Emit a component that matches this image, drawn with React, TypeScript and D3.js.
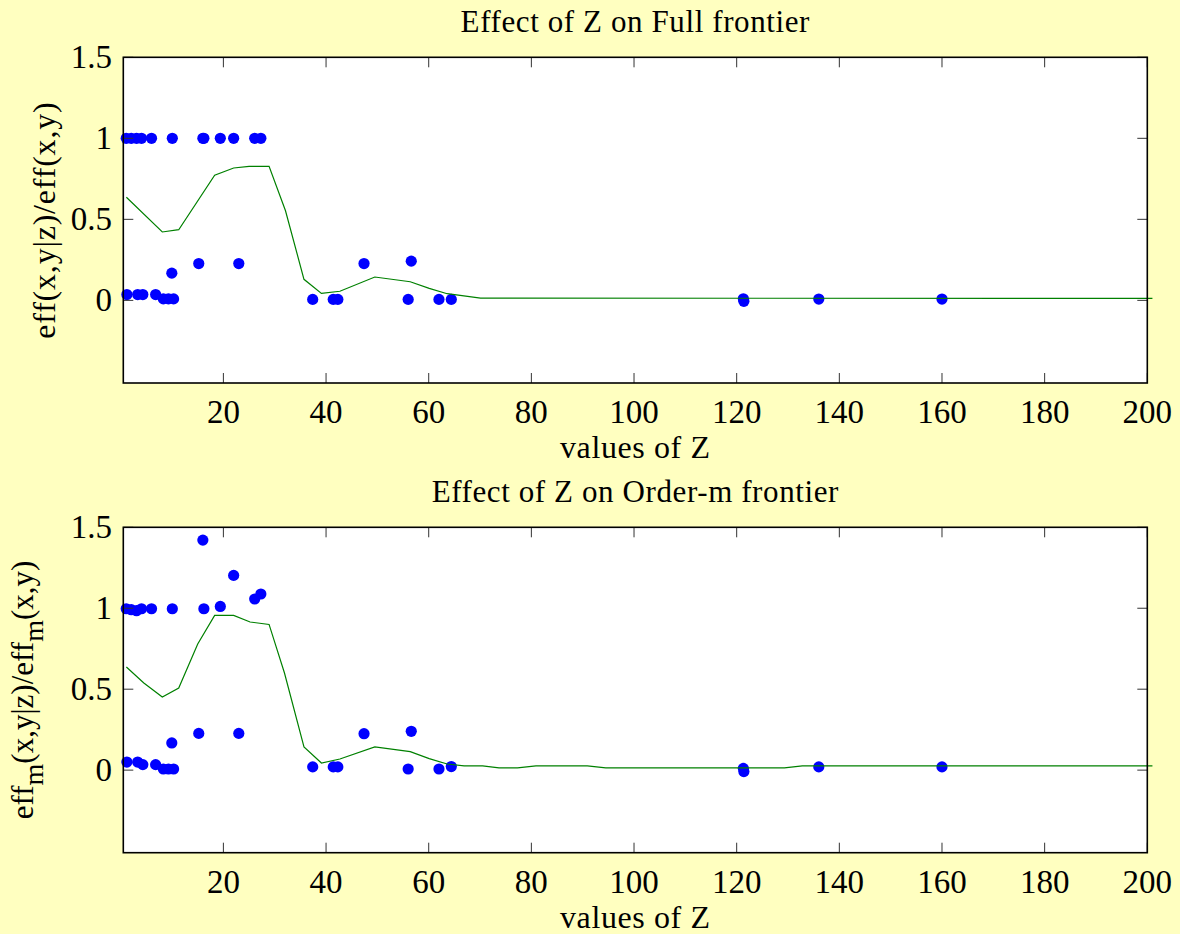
import React from "react";
import * as d3 from "d3";

// Observations: value of Z and efficiency ratios
const zObs = [1.07, 1.2, 2.05, 3.08, 3.3, 4.05, 4.3, 6.0, 6.8, 8.3, 9.3, 10.3, 9.95, 10.05, 15.2, 16.0, 16.2, 19.4, 22.0, 23.0, 26.1, 27.3, 37.4, 41.4, 42.3, 47.4, 56.0, 56.6, 62.0, 64.4, 121.3, 121.4, 136.0, 160.0];
const effFull = [1, 0.036, 1, 1, 0.036, 1, 0.036, 1, 0.036, 0.009, 0.009, 0.009, 0.168, 1, 0.227, 1, 1, 1, 1, 0.227, 1, 1, 0.006, 0.006, 0.006, 0.227, 0.006, 0.242, 0.006, 0.006, 0.01, -0.006, 0.008, 0.008];
const effOrderM = [0.997, 0.05, 0.991, 0.985, 0.05, 0.997, 0.034, 0.997, 0.034, 0.007, 0.007, 0.007, 0.168, 0.997, 0.227, 1.421, 0.997, 1.011, 1.203, 0.227, 1.057, 1.088, 0.02, 0.02, 0.02, 0.225, 0.007, 0.24, 0.007, 0.022, 0.011, -0.009, 0.02, 0.02];

// Smoothed curves
const gridFull = [1.1, 8.1, 11.3, 18.3, 22.0, 25.0, 28.9, 32.1, 35.7, 39.1, 42.7, 49.5, 56.4, 60.1, 63.6, 70.1, 201];
const curveFull = [0.636, 0.422, 0.436, 0.772, 0.817, 0.827, 0.827, 0.553, 0.13, 0.043, 0.056, 0.144, 0.115, 0.074, 0.041, 0.014, 0.012];
const gridOrderM = [1.1, 4.5, 8.1, 11.3, 15.0, 18.3, 22.0, 25.2, 28.9, 31.9, 35.7, 39.1, 42.7, 49.5, 56.4, 60.1, 63.6, 66.9, 70.5, 73.7, 77.3, 80.9, 90.9, 94.5, 129.3, 132.8, 201];
const curveOrderM = [0.637, 0.538, 0.452, 0.507, 0.779, 0.956, 0.956, 0.915, 0.9, 0.6, 0.143, 0.044, 0.069, 0.143, 0.114, 0.071, 0.038, 0.026, 0.026, 0.014, 0.014, 0.026, 0.026, 0.014, 0.014, 0.026, 0.026];

const xTicks = [20, 40, 60, 80, 100, 120, 140, 160, 180, 200];
const yTicks = [0, 0.5, 1, 1.5];
const yTickLabels = ["0", "0.5", "1", "1.5"];

const W = 1180;
const H = 934;
const FONT = "'Liberation Serif', 'Times New Roman', serif";
const FS = 33;

const left = 123.3;
const right = 1147.3;

type PanelProps = {
  top: number;
  bottom: number;
  title: string;
  effs: number[];
  grid: number[];
  curve: number[];
  yLabel: React.ReactNode;
};

function Panel({ top, bottom, title, effs, grid, curve, yLabel }: PanelProps) {
  const x = d3.scaleLinear().domain([0.5, 200]).range([left, right]);
  const y = d3.scaleLinear().domain([-0.51, 1.5]).range([bottom, top]);
  const line = d3
    .line<number>()
    .x((_, i) => x(grid[i]))
    .y((d) => y(d));
  const tl = 10;
  return (
    <g>
      <rect x={left} y={top} width={right - left} height={bottom - top} fill="#ffffff" />
      <clipPath id={`clip${top}`}>
        <rect x={left - 6} y={top} width={right - left + 12} height={bottom - top} />
      </clipPath>
      <g clipPath={`url(#clip${top})`}>
        {zObs.map((z, i) => (
          <circle key={i} cx={x(z)} cy={y(effs[i])} r={5.6} fill="#0000ff" />
        ))}
        <path d={line(curve) || ""} fill="none" stroke="#008000" strokeWidth={1.2} />
      </g>
      {/* ticks */}
      {xTicks.map((t) => (
        <g key={t}>
          <line x1={x(t)} x2={x(t)} y1={bottom} y2={bottom - tl} stroke="#333" strokeWidth={1} />
          <line x1={x(t)} x2={x(t)} y1={top} y2={top + tl} stroke="#333" strokeWidth={1} />
          <text x={x(t)} y={bottom + 40} textAnchor="middle" fontFamily={FONT} fontSize={FS} fill="#000">
            {t}
          </text>
        </g>
      ))}
      {yTicks.map((t, i) => (
        <g key={t}>
          <line x1={left} x2={left + tl} y1={y(t)} y2={y(t)} stroke="#333" strokeWidth={1} />
          <line x1={right} x2={right - tl} y1={y(t)} y2={y(t)} stroke="#333" strokeWidth={1} />
          <text x={112} y={y(t) + 11} textAnchor="end" fontFamily={FONT} fontSize={FS} fill="#000">
            {yTickLabels[i]}
          </text>
        </g>
      ))}
      <rect x={left} y={top} width={right - left} height={bottom - top} fill="none" stroke="#000" strokeWidth={1.6} />
      <text x={(left + right) / 2} y={top - 25} textAnchor="middle" fontFamily={FONT} fontSize={31} letterSpacing={0.6} fill="#000">
        {title}
      </text>
      <text x={(left + right) / 2} y={bottom + 75} textAnchor="middle" fontFamily={FONT} fontSize={32} letterSpacing={0.6} fill="#000">
        values of Z
      </text>
      {yLabel}
    </g>
  );
}

export default function App() {
  const cy1 = (57.3 + 383) / 2;
  const cy2 = (527.3 + 852.7) / 2;
  return (
    <svg width={W} height={H} style={{ position: "absolute", left: 0, top: 0 }}>
      <rect x={0} y={0} width={W} height={H} fill="#ffffc0" />
      <Panel
        top={57.3}
        bottom={383}
        title="Effect of Z on Full frontier"
        effs={effFull}
        grid={gridFull}
        curve={curveFull}
        yLabel={
          <text transform={`translate(55,${cy1}) rotate(-90)`} textAnchor="middle" fontFamily={FONT} fontSize={32} letterSpacing={0.8} fill="#000">
            eff(x,y|z)/eff(x,y)
          </text>
        }
      />
      <Panel
        top={527.3}
        bottom={852.7}
        title="Effect of Z on Order-m frontier"
        effs={effOrderM}
        grid={gridOrderM}
        curve={curveOrderM}
        yLabel={
          <text transform={`translate(33,${cy2}) rotate(-90)`} textAnchor="middle" fontFamily={FONT} fontSize={31} fill="#000">
            eff
            <tspan dy={10} fontSize={28}>m</tspan>
            <tspan dy={-10}>(x,y|z)/eff</tspan>
            <tspan dy={10} fontSize={28}>m</tspan>
            <tspan dy={-10}>(x,y)</tspan>
          </text>
        }
      />
    </svg>
  );
}
